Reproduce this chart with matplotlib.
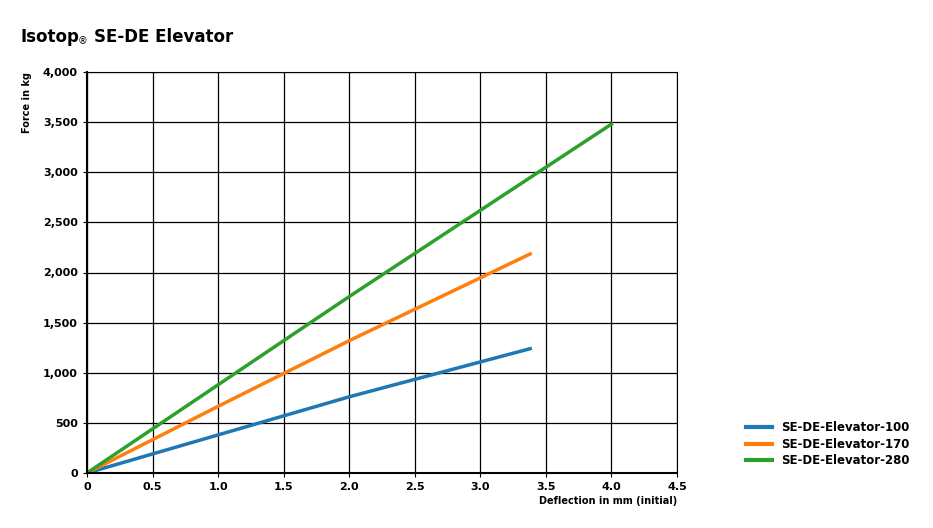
import numpy as np
import matplotlib.pyplot as plt

plt.rcParams['font.family'] = ['DejaVu Sans']

# deflection (mm) vs force (kg)
x_100 = [0, 1.0, 2.0, 3.38]
y_100 = [0, 380, 760, 1240]
x_170 = [0, 1.0, 2.0, 3.38]
y_170 = [0, 665, 1320, 2185]
x_280 = [0, 1.0, 2.0, 3.0, 4.0]
y_280 = [0, 880, 1760, 2620, 3480]

labels = ['SE-DE-Elevator-100', 'SE-DE-Elevator-170', 'SE-DE-Elevator-280']
colors = ['#1f77b4', '#ff7f0e', '#2ca02c']

fig = plt.figure(figsize=(9.33, 5.28), dpi=100)
ax = fig.add_axes([87/933, 1 - 473/528, 590/933, 401/528])

ax.plot(x_100, y_100, color=colors[0], lw=2.5, label=labels[0])
ax.plot(x_170, y_170, color=colors[1], lw=2.5, label=labels[1])
ax.plot(x_280, y_280, color=colors[2], lw=2.5, label=labels[2])

ax.set_xlim(0, 4.5)
ax.set_ylim(0, 4000)
ax.set_xticks(np.arange(0, 4.51, 0.5))
ax.set_xticklabels(['0', '0.5', '1.0', '1.5', '2.0', '2.5', '3.0', '3.5', '4.0', '4.5'])
ax.set_yticks(np.arange(0, 4001, 500))
ax.set_yticklabels(['0', '500', '1,000', '1,500', '2,000', '2,500', '3,000', '3,500', '4,000'])
ax.grid(True, color='black', lw=0.9)
for s in ax.spines.values():
    s.set_color('black')
ax.spines['bottom'].set_linewidth(1.5)
ax.spines['left'].set_linewidth(1.5)
ax.tick_params(labelsize=8, length=3)
for t in ax.get_xticklabels() + ax.get_yticklabels():
    t.set_fontweight('bold')

ax.set_xlabel('Deflection in mm (initial)', fontsize=7, fontweight='bold', loc='right', labelpad=3)
ax.set_ylabel('Force in kg', fontsize=7, fontweight='bold', loc='top', labelpad=8)

fig.text(20/933, 1 - 37/528, 'Isotop', fontsize=12, fontweight='bold', va='center')
fig.text(78/933, 1 - 41/528, '®', fontsize=7, va='center')
fig.text(94/933, 1 - 37/528, 'SE-DE Elevator', fontsize=12, fontweight='bold', va='center')

leg = fig.legend(loc='lower left', bbox_to_anchor=(735/933, 1 - 478/528), frameon=False,
                 prop={'size': 8.5, 'weight': 'bold'}, handlelength=2.2, labelspacing=0.3)
for l in leg.get_lines():
    l.set_linewidth(3)

fig.savefig('out.png', dpi=100)
